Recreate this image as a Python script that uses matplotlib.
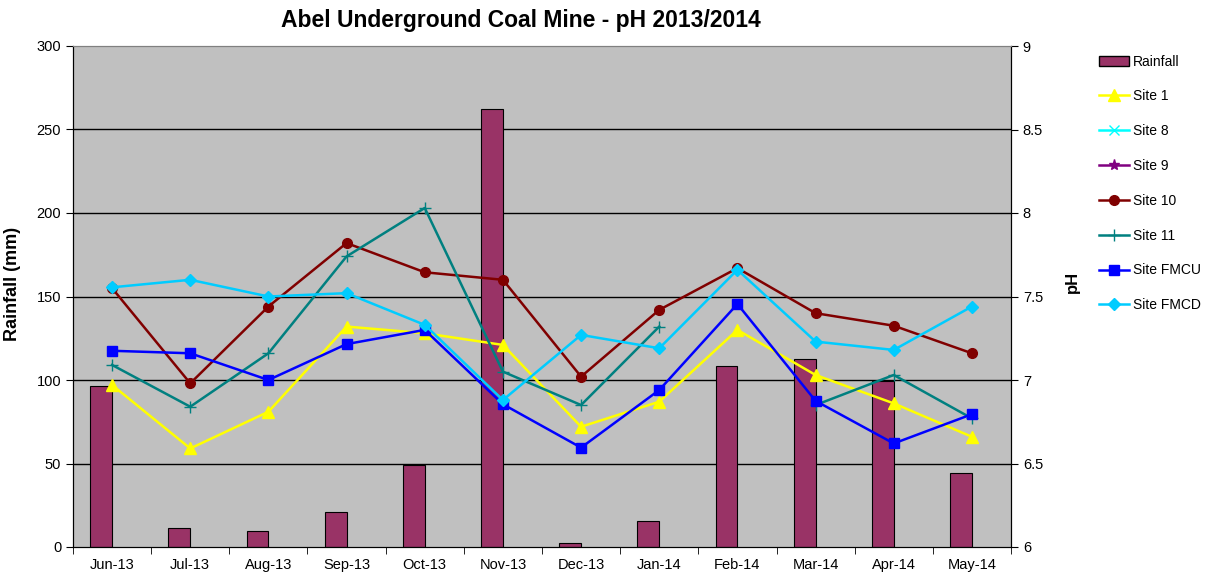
import matplotlib
matplotlib.use("Agg")
import matplotlib.pyplot as plt
import numpy as np
from matplotlib.patches import Patch

plt.rcParams['font.family'] = ['Liberation Sans', 'DejaVu Sans']

months = ["Jun-13", "Jul-13", "Aug-13", "Sep-13", "Oct-13", "Nov-13",
          "Dec-13", "Jan-14", "Feb-14", "Mar-14", "Apr-14", "May-14"]
rainfall = [96.5, 11.2, 9.8, 21.1, 49.1, 262, 2.5, 15.8, 108.4, 112.4, 99.6, 44.5]
site1 = [6.97, 6.59, 6.81, 7.32, 7.28, 7.21, 6.72, 6.87, 7.30, 7.03, 6.86, 6.66]
site8 = [np.nan] * 12
site9 = [np.nan] * 12
site10 = [7.55, 6.98, 7.44, 7.82, 7.645, 7.60, 7.02, 7.42, 7.67, 7.40, 7.325, 7.16]
site11 = [7.09, 6.84, 7.16, 7.74, 8.03, 7.05, 6.85, 7.32, np.nan, 6.85, 7.03, 6.77]
fmcu = [7.175, 7.16, 7.0, 7.215, 7.30, 6.855, 6.595, 6.94, 7.455, 6.875, 6.62, 6.795]
fmcd = [7.555, 7.60, 7.50, 7.52, 7.33, 6.88, 7.27, 7.19, 7.66, 7.23, 7.18, 7.44]

fig = plt.figure(figsize=(12.21, 5.77), dpi=100)
ax = fig.add_axes([73/1221, 1-547/577, (1011-73)/1221, (547-46)/577])
ax2 = ax.twinx()

x = np.arange(len(months))
ax.set_facecolor('#C0C0C0')
ax.bar(x, rainfall, width=-0.28, align='edge', color='#993366',
       edgecolor='black', linewidth=0.8, zorder=2)
ax.set_ylim(0, 300)
ax.set_yticks(np.arange(0, 301, 50))
ax.set_xlim(-0.5, 11.5)
for v in range(50, 300, 50):
    ax.axhline(v, color='black', linewidth=1.0, zorder=1)
ax.set_xticks(x)
ax.set_xticklabels(months, fontsize=10.5)
ax.set_xticks(np.arange(-0.5, 12, 1), minor=True)
ax.tick_params(axis='x', which='major', length=0, pad=8)
ax.tick_params(axis='x', which='minor', length=5, direction='out')
ax.tick_params(axis='y', labelsize=10.5, length=5)
ax.set_ylabel("Rainfall (mm)", fontsize=13, fontweight='bold')
ax.yaxis.set_label_coords(-0.055, 0.525)

ax2.set_ylim(6, 9)
ax2.set_yticks(np.arange(6, 9.01, 0.5))
ax2.set_yticklabels(["6", "6.5", "7", "7.5", "8", "8.5", "9"])
ax2.tick_params(axis='y', labelsize=10.5, length=5)
ax2.set_ylabel("pH", fontsize=12, fontweight='bold')
ax2.yaxis.set_label_coords(1.058, 0.53)

lw = 1.8
ax2.plot(x, site1, color='#FFFF00', marker='^', markersize=8, lw=lw, label='Site 1')
ax2.plot(x, site8, color='#00FFFF', marker='x', markersize=7, lw=lw, label='Site 8')
ax2.plot(x, site9, color='#800080', marker='*', markersize=8, lw=lw, label='Site 9')
ax2.plot(x, site10, color='#800000', marker='o', markersize=7, lw=lw, label='Site 10')
ax2.plot(x, site11, color='#008080', marker='+', markersize=9, lw=lw, label='Site 11')
ax2.plot(x, fmcu, color='#0000FF', marker='s', markersize=7, lw=lw, label='Site FMCU')
ax2.plot(x, fmcd, color='#00CCFF', marker='D', markersize=6, lw=lw, label='Site FMCD')

for a in (ax, ax2):
    a.spines['top'].set_color('#808080')
    a.spines['left'].set_color('black')
    a.spines['right'].set_color('black')
    a.spines['bottom'].set_color('black')

fig.text(521/1221, 1-21/577, "Abel Underground Coal Mine - pH 2013/2014",
         fontsize=16.5, fontweight='bold', ha='center', va='center')

handles = [Patch(facecolor='#993366', edgecolor='black', label='Rainfall')]
handles += ax2.get_lines()
fig.legend(handles=handles, loc='upper left', bbox_to_anchor=(1086/1221, 1-42/577),
           frameon=False, fontsize=10, labelspacing=1.5, handlelength=2.2,
           handletextpad=0.3)

fig.savefig("out.png", dpi=100)
